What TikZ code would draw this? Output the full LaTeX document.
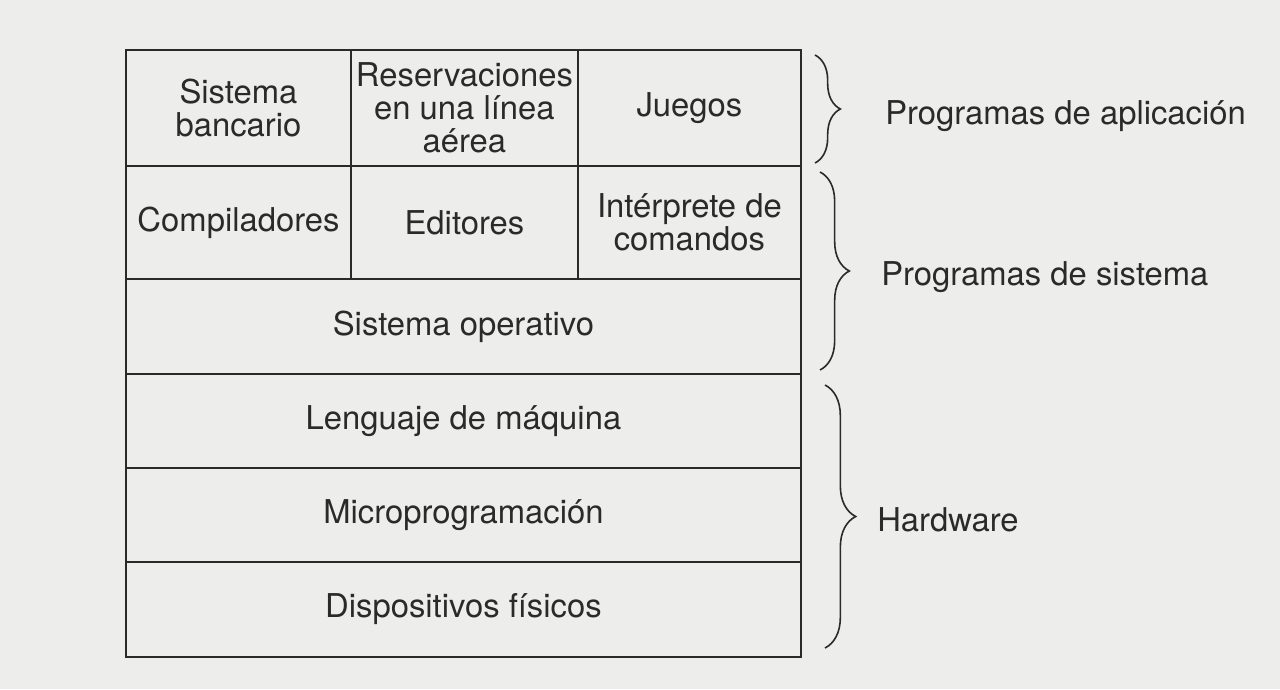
\documentclass[tikz,border=0pt]{standalone}
\usepackage{fontspec}
\setmainfont{TeX Gyre Heros}
\usetikzlibrary{decorations.pathreplacing}
\definecolor{paper}{HTML}{EDEDEB}
\definecolor{ink}{HTML}{2A2A2A}
\tikzset{
  cell/.style={draw=ink, line width=1.4pt, anchor=north west, inner sep=0pt, align=center,
    text=ink, font=\fontsize{24.6}{24.8}\selectfont},
  lbl/.style={anchor=west, text=ink, font=\fontsize{24.6}{24.8}\selectfont, inner sep=0pt},
  brc/.style={draw=ink, line width=1.2pt, decorate, decoration={brace, amplitude=#1}},
}
\begin{document}
\begin{tikzpicture}[x=0.75pt, y=-0.75pt]
\fill[paper] (0,0) rectangle (1280,689);
\useasboundingbox (0,0) rectangle (1280,689);
% row 1
\node[cell, minimum width=225*0.75pt, minimum height=116*0.75pt] (banc) at (125,49) {Sistema\\bancario};
\node[cell, minimum width=227*0.75pt, minimum height=116*0.75pt] (resv) at (350,49) {Reservaciones\\en una línea\\aérea};
\node[cell, minimum width=223*0.75pt, minimum height=116*0.75pt] (jueg) at (577,49) {Juegos};
% row 2
\node[cell, minimum width=225*0.75pt, minimum height=113*0.75pt] (comp) at (125,165) {Compiladores};
\node[cell, minimum width=227*0.75pt, minimum height=113*0.75pt] (edit) at (350,165) {Editores};
\node[cell, minimum width=223*0.75pt, minimum height=113*0.75pt] (intr) at (577,165) {Intérprete de\\comandos};
% full rows
\node[cell, minimum width=675*0.75pt, minimum height=95*0.75pt] (so) at (125,278) {Sistema operativo};
\node[cell, minimum width=675*0.75pt, minimum height=94*0.75pt] (lm) at (125,373) {Lenguaje de máquina};
\node[cell, minimum width=675*0.75pt, minimum height=94*0.75pt] (mp) at (125,467) {Microprogramación};
\node[cell, minimum width=675*0.75pt, minimum height=95*0.75pt] (df) at (125,561) {Dispositivos físicos};
% braces
\coordinate (b1t) at (815,55);  \coordinate (b1b) at (815,163);
\coordinate (b2t) at (820,172); \coordinate (b2b) at (820,370);
\coordinate (b3t) at (825,385); \coordinate (b3b) at (825,648);
\draw[brc=19pt] (b1t) -- (b1b);
\draw[brc=22pt] (b2t) -- (b2b);
\draw[brc=23pt] (b3t) -- (b3b);
% labels
\node[lbl] (lapp) at (885,116) {Programas de aplicación};
\node[lbl] (lsys) at (881,277) {Programas de sistema};
\node[lbl] (lhw) at (877,520) {Hardware};
\end{tikzpicture}
\end{document}
